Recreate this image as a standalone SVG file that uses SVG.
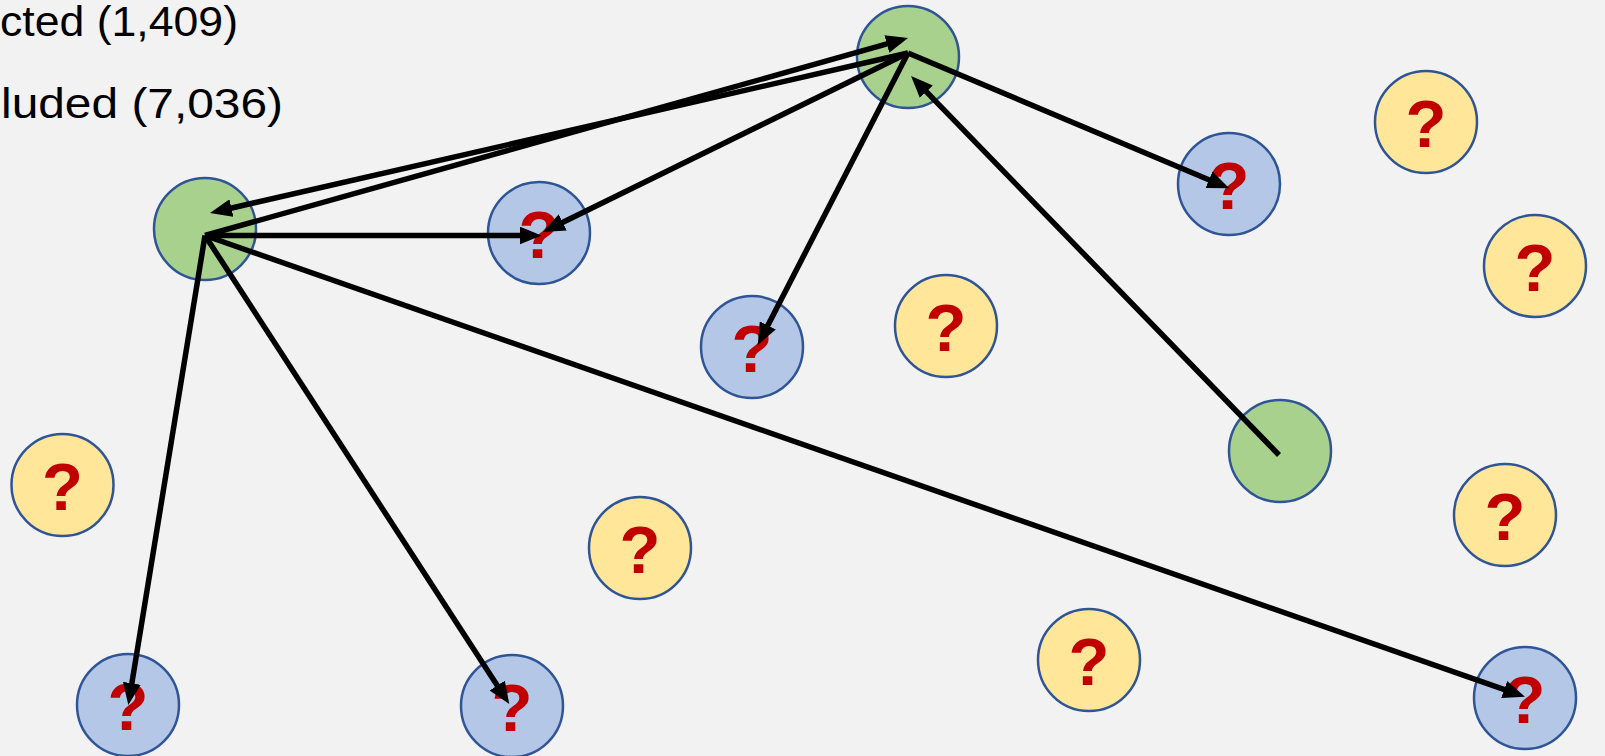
<svg xmlns="http://www.w3.org/2000/svg" width="1605" height="756" viewBox="0 0 1605 756">
  <defs>
    <style>
      .node { stroke: #2F5597; stroke-width: 2.5; }
      .known { fill: #A9D18E; }
      .probe { fill: #B4C7E7; }
      .unknown { fill: #FFE699; }
      .q { font-family: "Liberation Sans", Arial, sans-serif; font-weight: bold; font-size: 67px; fill: #C00000; text-anchor: middle; }
      .legend { font-family: "Liberation Sans", Arial, sans-serif; font-size: 43px; fill: #000000; }
      .edge { stroke: #000000; stroke-width: 5.5; fill: none; marker-end: url(#head); }
    </style>
    <marker id="head" markerUnits="userSpaceOnUse" markerWidth="22" markerHeight="18" refX="14" refY="9" orient="auto">
      <path d="M0,0 L22,9 L0,18 Z" fill="#000000"/>
    </marker>
  </defs>

  <rect width="1605" height="756" fill="#F2F2F2"/>

  <!-- legend lines -->
  <g id="legend">
    <text class="legend" x="0" y="36" textLength="238" lengthAdjust="spacingAndGlyphs">cted (1,409)</text>
    <text class="legend" x="1" y="118" textLength="282" lengthAdjust="spacingAndGlyphs">luded (7,036)</text>
  </g>

  <!-- green: known nodes -->
  <g id="green-a"><circle class="node known" cx="205" cy="229" r="51"/></g>
  <g id="green-b"><circle class="node known" cx="908" cy="57" r="51"/></g>
  <g id="green-c"><circle class="node known" cx="1280" cy="451" r="51"/></g>

  <!-- blue: reached nodes -->
  <g id="blue-1"><circle class="node probe" cx="539" cy="233" r="51"/><text class="q" x="539" y="258">?</text></g>
  <g id="blue-2"><circle class="node probe" cx="752" cy="347" r="51"/><text class="q" x="752" y="372">?</text></g>
  <g id="blue-3"><circle class="node probe" cx="1229" cy="184" r="51"/><text class="q" x="1229" y="209">?</text></g>
  <g id="blue-4"><circle class="node probe" cx="128" cy="705" r="51"/><text class="q" x="128" y="730">?</text></g>
  <g id="blue-5"><circle class="node probe" cx="512" cy="706" r="51"/><text class="q" x="512" y="731">?</text></g>
  <g id="blue-6"><circle class="node probe" cx="1525" cy="698" r="51"/><text class="q" x="1525" y="723">?</text></g>

  <!-- yellow: unreached nodes -->
  <g id="yellow-1"><circle class="node unknown" cx="1426" cy="122" r="51"/><text class="q" x="1426" y="147">?</text></g>
  <g id="yellow-2"><circle class="node unknown" cx="1535" cy="266" r="51"/><text class="q" x="1535" y="291">?</text></g>
  <g id="yellow-3"><circle class="node unknown" cx="946" cy="326" r="51"/><text class="q" x="946" y="351">?</text></g>
  <g id="yellow-4"><circle class="node unknown" cx="62.5" cy="485" r="51"/><text class="q" x="62.5" y="510">?</text></g>
  <g id="yellow-5"><circle class="node unknown" cx="640" cy="548" r="51"/><text class="q" x="640" y="573">?</text></g>
  <g id="yellow-6"><circle class="node unknown" cx="1505" cy="515" r="51"/><text class="q" x="1505" y="540">?</text></g>
  <g id="yellow-7"><circle class="node unknown" cx="1089" cy="660" r="51"/><text class="q" x="1089" y="685">?</text></g>

  <!-- directed edges -->
  <g id="connectors">
    <line class="edge" x1="205" y1="235.5" x2="900.3" y2="40.2"/>
    <line class="edge" x1="908" y1="53" x2="217.8" y2="211.2"/>
    <line class="edge" x1="205" y1="235.5" x2="533.5" y2="235.5"/>
    <line class="edge" x1="908" y1="53" x2="550.2" y2="228.5"/>
    <line class="edge" x1="908" y1="53" x2="761.4" y2="337.9"/>
    <line class="edge" x1="908" y1="53" x2="1221.9" y2="185.2"/>
    <line class="edge" x1="1279" y1="455" x2="916.6" y2="81.7"/>
    <line class="edge" x1="205" y1="235.5" x2="129.6" y2="697.1"/>
    <line class="edge" x1="205" y1="235.5" x2="504.9" y2="697.3"/>
    <line class="edge" x1="205" y1="235.5" x2="1517.4" y2="694.1"/>
  </g>
</svg>
